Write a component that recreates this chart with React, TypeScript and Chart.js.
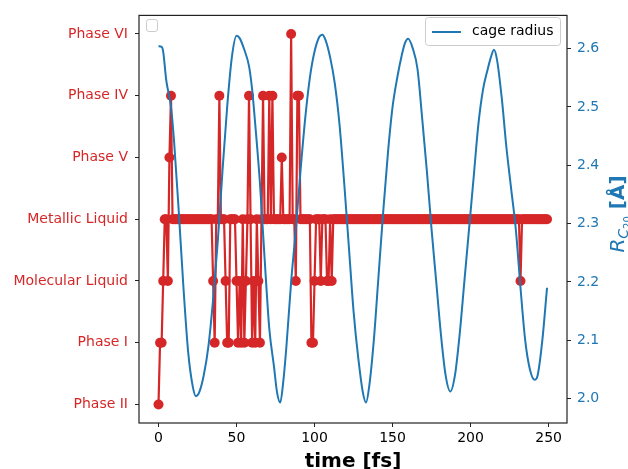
import React, { useEffect, useRef } from 'react';
import { Chart, registerables } from 'chart.js';

Chart.register(...registerables);

const RED = '#d62728';
const BLUE = '#1f77b4';

const phaseLabels = ['Phase II', 'Phase I', 'Molecular Liquid', 'Metallic Liquid', 'Phase V', 'Phase IV', 'Phase VI'];
const timeTicks = [0, 50, 100, 150, 200, 250];
const radiusTicks = [2.0, 2.1, 2.2, 2.3, 2.4, 2.5, 2.6];
const phaseTimeStep = 1; // fs between samples

// phase index per fs, t = 0 .. 249
const phaseSeries = [
  0, 1, 1, 2, 3, 3, 2, 4, 5, 3,
  3, 3, 3, 3, 3, 3, 3, 3, 3, 3,
  3, 3, 3, 3, 3, 3, 3, 3, 3, 3,
  3, 3, 3, 3, 3, 2, 1, 3, 3, 5,
  3, 3, 3, 2, 1, 1, 3, 3, 3, 3,
  2, 1, 2, 1, 3, 1, 2, 3, 5, 3,
  1, 2, 1, 3, 2, 1, 3, 5, 3, 3,
  3, 5, 3, 5, 3, 3, 3, 3, 3, 4,
  3, 3, 3, 3, 3, 6, 3, 3, 2, 5,
  5, 3, 3, 3, 3, 3, 3, 3, 1, 1,
  2, 3, 3, 3, 2, 3, 3, 3, 2, 2,
  3, 2, 3, 3, 3, 3, 3, 3, 3, 3,
  3, 3, 3, 3, 3, 3, 3, 3, 3, 3,
  3, 3, 3, 3, 3, 3, 3, 3, 3, 3,
  3, 3, 3, 3, 3, 3, 3, 3, 3, 3,
  3, 3, 3, 3, 3, 3, 3, 3, 3, 3,
  3, 3, 3, 3, 3, 3, 3, 3, 3, 3,
  3, 3, 3, 3, 3, 3, 3, 3, 3, 3,
  3, 3, 3, 3, 3, 3, 3, 3, 3, 3,
  3, 3, 3, 3, 3, 3, 3, 3, 3, 3,
  3, 3, 3, 3, 3, 3, 3, 3, 3, 3,
  3, 3, 3, 3, 3, 3, 3, 3, 3, 3,
  3, 3, 3, 3, 3, 3, 3, 3, 3, 3,
  3, 3, 2, 3, 3, 3, 3, 3, 3, 3,
  3, 3, 3, 3, 3, 3, 3, 3, 3, 3,
];

const radiusTimes = [
  0, 2, 3, 5, 8, 10, 13, 16, 19, 22, 24, 26, 29, 32, 35, 38, 41, 44, 47, 50,
  52, 55, 58, 60, 62, 65, 68, 71, 74, 76, 78, 80, 82, 85, 88, 91, 94, 97, 100, 103,
  105, 107, 110, 113, 116, 119, 122, 125, 128, 131, 133, 135, 138, 141, 144, 147, 150, 153, 156, 158,
  160, 163, 166, 169, 172, 175, 178, 181, 184, 187, 190, 193, 196, 199, 202, 205, 208, 211, 213, 215,
  217, 220, 223, 226, 229, 232, 235, 238, 241, 243, 246, 249,
];
const radiusValues = [
  2.604, 2.603, 2.595, 2.545, 2.5, 2.44, 2.32, 2.19, 2.08, 2.02, 2.004, 2.01, 2.04, 2.09, 2.17, 2.27, 2.39, 2.5, 2.585, 2.622,
  2.618, 2.598, 2.57, 2.53, 2.47, 2.37, 2.24, 2.12, 2.055, 2.01, 1.993, 2.03, 2.09, 2.2, 2.29, 2.39, 2.48, 2.55, 2.595, 2.62,
  2.624, 2.615, 2.585, 2.54, 2.47, 2.37, 2.26, 2.15, 2.07, 2.01, 1.993, 2.02, 2.1, 2.21, 2.32, 2.42, 2.5, 2.55, 2.59, 2.61,
  2.617, 2.6, 2.565, 2.48, 2.39, 2.29, 2.2, 2.11, 2.04, 2.012, 2.04, 2.11, 2.2, 2.29, 2.38, 2.47, 2.53, 2.565, 2.585, 2.598,
  2.58, 2.515, 2.43, 2.36, 2.29, 2.19, 2.1, 2.05, 2.032, 2.04, 2.1, 2.19,
];

const FONT = 'DejaVu Sans';

const framePlugin = {
  id: 'frameAndExtras',
  afterDatasetsDraw(chart: any) {
    const { ctx, chartArea } = chart;
    const { left, right, top, bottom } = chartArea;
    ctx.save();
    // spines
    ctx.strokeStyle = '#222';
    ctx.lineWidth = 1.2;
    ctx.strokeRect(left, top, right - left, bottom - top);

    const rr = (x: number, y: number, w: number, h: number, r: number) => {
      ctx.beginPath();
      ctx.moveTo(x + r, y);
      ctx.lineTo(x + w - r, y);
      ctx.arcTo(x + w, y, x + w, y + r, r);
      ctx.lineTo(x + w, y + h - r);
      ctx.arcTo(x + w, y + h, x + w - r, y + h, r);
      ctx.lineTo(x + r, y + h);
      ctx.arcTo(x, y + h, x, y + h - r, r);
      ctx.lineTo(x, y + r);
      ctx.arcTo(x, y, x + r, y, r);
      ctx.closePath();
    };
    // empty legend box (left axes)
    ctx.lineWidth = 1;
    ctx.strokeStyle = '#cccccc';
    ctx.fillStyle = 'rgba(255,255,255,0.8)';
    rr(146.5, 19.5, 11, 12, 2.5);
    ctx.fill();
    ctx.stroke();

    // legend for cage radius
    rr(425.5, 17.5, 135, 28, 3);
    ctx.fill();
    ctx.stroke();
    ctx.strokeStyle = BLUE;
    ctx.lineWidth = 2;
    ctx.beginPath();
    ctx.moveTo(432, 32);
    ctx.lineTo(461, 32);
    ctx.stroke();
    ctx.fillStyle = '#000';
    ctx.font = `14px "${FONT}"`;
    ctx.textBaseline = 'middle';
    ctx.textAlign = 'left';
    ctx.fillText(chart.data.datasets[0].label, 472, 31.5);

    // right axis title: R_{C_20} [Å]
    ctx.translate(624, 214);
    ctx.rotate(-Math.PI / 2);
    ctx.fillStyle = BLUE;
    ctx.textBaseline = 'alphabetic';
    const parts = [
      { t: 'R', f: `italic 20px "${FONT}"`, dy: 0 },
      { t: 'C', f: `italic 14px "${FONT}"`, dy: 4 },
      { t: '20', f: `10px "${FONT}"`, dy: 7 },
      { t: ' [Å]', f: `bold 20px "${FONT}"`, dy: 0 },
    ];
    let total = 0;
    const widths = parts.map((p) => {
      ctx.font = p.f;
      const w = ctx.measureText(p.t).width;
      total += w;
      return w;
    });
    let x = -total / 2;
    parts.forEach((p, i) => {
      ctx.font = p.f;
      ctx.fillText(p.t, x, p.dy);
      x += widths[i];
    });
    ctx.restore();
  },
};

export default function App() {
  const ref = useRef<HTMLCanvasElement | null>(null);

  useEffect(() => {
    document.body.style.margin = '0';
    if (!ref.current) return;
    Chart.defaults.font.family = FONT;
    Chart.defaults.font.size = 14;

    const phaseMarkers = phaseSeries.map((v, i) => ({ x: i * phaseTimeStep, y: v }));
    const phaseLine = phaseSeries.map((v, i) => ({ x: i * phaseTimeStep, y: v }));

    const chart = new Chart(ref.current, {
      type: 'line',
      data: {
        datasets: [
          {
            label: 'cage radius',
            data: radiusTimes.map((t, i) => ({ x: t, y: radiusValues[i] })),
            yAxisID: 'y1',
            borderColor: BLUE,
            backgroundColor: BLUE,
            borderWidth: 2,
            pointRadius: 0,
            cubicInterpolationMode: 'monotone',
            order: 0,
          },
          {
            type: 'bubble',
            label: 'phase markers',
            data: phaseMarkers,
            yAxisID: 'y',
            backgroundColor: RED,
            borderColor: RED,
            borderWidth: 0,
            radius: 5,
            order: 1,
          },
          {
            label: 'phase',
            data: phaseLine,
            yAxisID: 'y',
            borderColor: RED,
            backgroundColor: RED,
            borderWidth: 2.2,
            pointRadius: 0,
            tension: 0,
            order: 2,
          },
        ],
      },
      options: {
        animation: false,
        responsive: false,
        events: [],
        layout: { padding: { top: 12, left: 0, right: 0, bottom: 0 } },
        plugins: { legend: { display: false }, tooltip: { enabled: false } },
        scales: {
          x: {
            type: 'linear',
            min: -12.5,
            max: 261.8,
            afterBuildTicks: (s: any) => {
              s.ticks = timeTicks.map((v) => ({ value: v }));
            },
            afterFit: (s: any) => {
              s.height = 46;
            },
            grid: { drawOnChartArea: false, drawTicks: true, tickLength: 4, tickColor: '#222', tickWidth: 1 },
            border: { display: false },
            ticks: { color: '#000', font: { size: 14 }, padding: 3, maxRotation: 0, autoSkip: false, callback: (v: any) => String(v) },
            title: {
              display: true,
              text: 'time [fs]',
              color: '#000',
              font: { size: 20, weight: 'bold', family: FONT },
              padding: { top: 0, bottom: -5 },
            },
          },
          y: {
            type: 'linear',
            position: 'left',
            min: -0.3,
            max: 6.3,
            afterBuildTicks: (s: any) => {
              s.ticks = phaseLabels.map((_, i) => ({ value: i }));
            },
            afterFit: (s: any) => {
              s.width = 139;
            },
            grid: { drawOnChartArea: false, drawTicks: true, tickLength: 4, tickColor: '#222', tickWidth: 1 },
            border: { display: false },
            ticks: { color: RED, font: { size: 14 }, padding: 7, autoSkip: false, callback: (v: any) => phaseLabels[Math.round(v)] },
          },
          y1: {
            type: 'linear',
            position: 'right',
            min: 1.958,
            max: 2.657,
            afterBuildTicks: (s: any) => {
              s.ticks = radiusTicks.map((v) => ({ value: v }));
            },
            afterFit: (s: any) => {
              s.width = 61;
            },
            grid: { drawOnChartArea: false, drawTicks: true, tickLength: 4, tickColor: '#222', tickWidth: 1 },
            border: { display: false },
            ticks: { color: BLUE, font: { size: 14 }, padding: 6, autoSkip: false, callback: (v: any) => Number(v).toFixed(1) },
          },
        },
      },
      plugins: [framePlugin],
    } as any);

    return () => chart.destroy();
  }, []);

  return (
    <div style={{ width: 628, height: 469 }}>
      <canvas ref={ref} width={628} height={469} />
    </div>
  );
}
